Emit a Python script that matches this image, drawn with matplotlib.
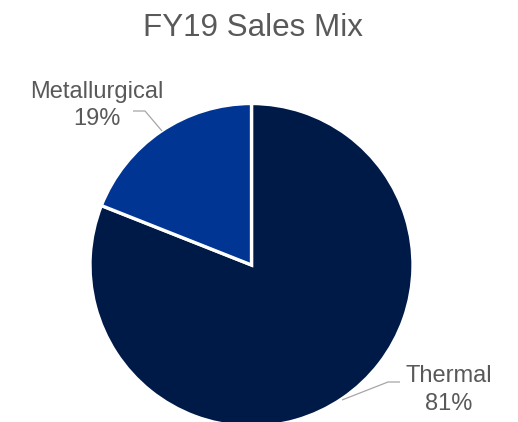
import matplotlib
matplotlib.use("Agg")
import matplotlib.pyplot as plt

title = "FY19 Sales Mix"
categories = ["Thermal", "Metallurgical"]
shares = [81, 19]
colors = ["#001A48", "#003594"]

W, H = 518, 422
fig = plt.figure(figsize=(W / 100, H / 100), dpi=100)
ax = fig.add_axes([0, 0, 1, 1])
ax.set_aspect("equal")
ax.axis("off")

cx, cy, R = 251.5, 265, 161.5
wedges, _ = ax.pie(shares, colors=colors, startangle=90, counterclock=False,
                   center=(cx, -cy), radius=R,
                   wedgeprops=dict(edgecolor="white", linewidth=2.4))

font = "Liberation Sans"
tc = "#595959"
ax.text(253, -36, title, ha="center", va="baseline", fontsize=22.6,
        color=tc, family=font)

label_pos = {"Thermal": (449, 382, 410), "Metallurgical": (97, 98, 125)}
leaders = {"Thermal": [(342, 400), (388, 382), (400, 382)],
           "Metallurgical": [(133, 111), (145, 111), (162, 131)]}
for cat, val in zip(categories, shares):
    x, y1, y2 = label_pos[cat]
    ax.text(x, -y1, cat, ha="center", va="baseline", fontsize=17,
            color=tc, family=font)
    ax.text(x, -y2, f"{val}%", ha="center", va="baseline", fontsize=17,
            color=tc, family=font)
    xs = [p[0] for p in leaders[cat]]
    ys = [-p[1] for p in leaders[cat]]
    ax.plot(xs, ys, color="#A6A6A6", linewidth=0.9, solid_capstyle="butt")

ax.set_xlim(0, W)
ax.set_ylim(-H, 0)
fig.savefig("out.png", dpi=100)
